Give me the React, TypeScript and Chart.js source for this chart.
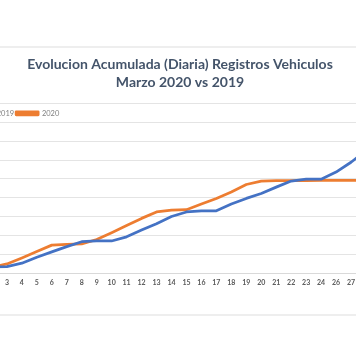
import React, { useEffect, useRef } from "react";
import { Chart, registerables } from "chart.js";

Chart.register(...registerables);

const TITLE_LINES = ["Evolucion Acumulada (Diaria) Registros Vehiculos", "Marzo 2020 vs 2019"];

const DAYS = ["1", "2", "3", "4", "5", "6", "7", "8", "9", "10", "11", "12", "13", "14", "15", "16", "17", "18", "19", "20", "21", "22", "23", "24", "26", "27", "28", "29"];

const SERIES_2019 = [900, 1600, 1700, 2600, 4200, 5600, 7000, 8300, 8500, 8500, 9600, 11400, 13100, 15000, 16200, 16500, 16500, 18300, 19800, 21100, 22800, 24400, 24900, 24900, 26800, 29400, 32500, 35200];

const SERIES_2020 = [800, 1500, 2400, 4000, 5700, 7400, 7600, 7700, 8900, 10700, 12600, 14500, 16200, 16700, 16800, 18300, 19800, 21500, 23500, 24400, 24500, 24500, 24500, 24600, 24600, 24600, 24600, 24600];

const Y_MAX = 45000;
const Y_STEP = 5000;

// moves the library's legend down so it sits inside the plot area, as in the original
const legendInsidePlot = {
  id: "legendInsidePlot",
  afterLayout(chart: any) {
    const lg = chart.legend;
    if (!lg) return;
    const dy = 16;
    lg.top += dy;
    lg.bottom += dy;
  },
};

export default function App() {
  const ref = useRef<HTMLCanvasElement | null>(null);

  useEffect(() => {
    if (!ref.current) return;
    const chart = new Chart(ref.current, {
      type: "line",
      data: {
        labels: DAYS,
        datasets: [
          { label: "2019", data: SERIES_2019, borderColor: "#4472C4", backgroundColor: "#4472C4", borderWidth: 2.75, pointRadius: 0, tension: 0, borderCapStyle: "round", borderJoinStyle: "round" },
          { label: "2020", data: SERIES_2020, borderColor: "#ED7D31", backgroundColor: "#ED7D31", borderWidth: 2.75, pointRadius: 0, tension: 0, borderCapStyle: "round", borderJoinStyle: "round" },
        ],
      },
      options: {
        responsive: false,
        animation: false,
        layout: { padding: { left: 0, right: 0, top: 0, bottom: 20.6 } },
        plugins: {
          title: { display: true, text: TITLE_LINES, color: "#44546A", font: { family: "Lato", size: 14, weight: "bold", lineHeight: 1.286 }, padding: { top: 7, bottom: 0.5 } },
          legend: { position: "top", align: "start", maxHeight: 12, labels: { boxWidth: 22, boxHeight: 3, padding: 2, color: "#808080", font: { family: "Lato", size: 7.5 } } },
          tooltip: { enabled: false },
        },
        scales: {
          x: { offset: true, grid: { display: false, drawTicks: false }, border: { display: true, color: "#d9d9d9", width: 1 }, ticks: { color: "#595959", font: { family: "Lato", size: 7, weight: "bold" }, padding: 6, maxRotation: 0, autoSkip: false } },
          y: { min: 0, max: Y_MAX, grid: { color: "#e4e4e4", lineWidth: 1, drawTicks: false }, border: { display: false }, ticks: { display: false, stepSize: Y_STEP } },
        },
      },
      plugins: [legendInsidePlot],
    });
    return () => chart.destroy();
  }, []);

  return (
    <div style={{ position: "fixed", left: 0, top: 0, width: 356, height: 364, overflow: "hidden", background: "#fff" }}>
      <div style={{ position: "absolute", left: 0, right: 0, top: 46, height: 2, background: "#eeeeee" }} />
      <div style={{ position: "absolute", left: 0, right: 0, top: 314, height: 2, background: "#eeeeee" }} />
      <div style={{ position: "absolute", left: -31, top: 48, width: 422, height: 266 }}>
        <canvas ref={ref} width={422} height={266} />
      </div>
    </div>
  );
}
